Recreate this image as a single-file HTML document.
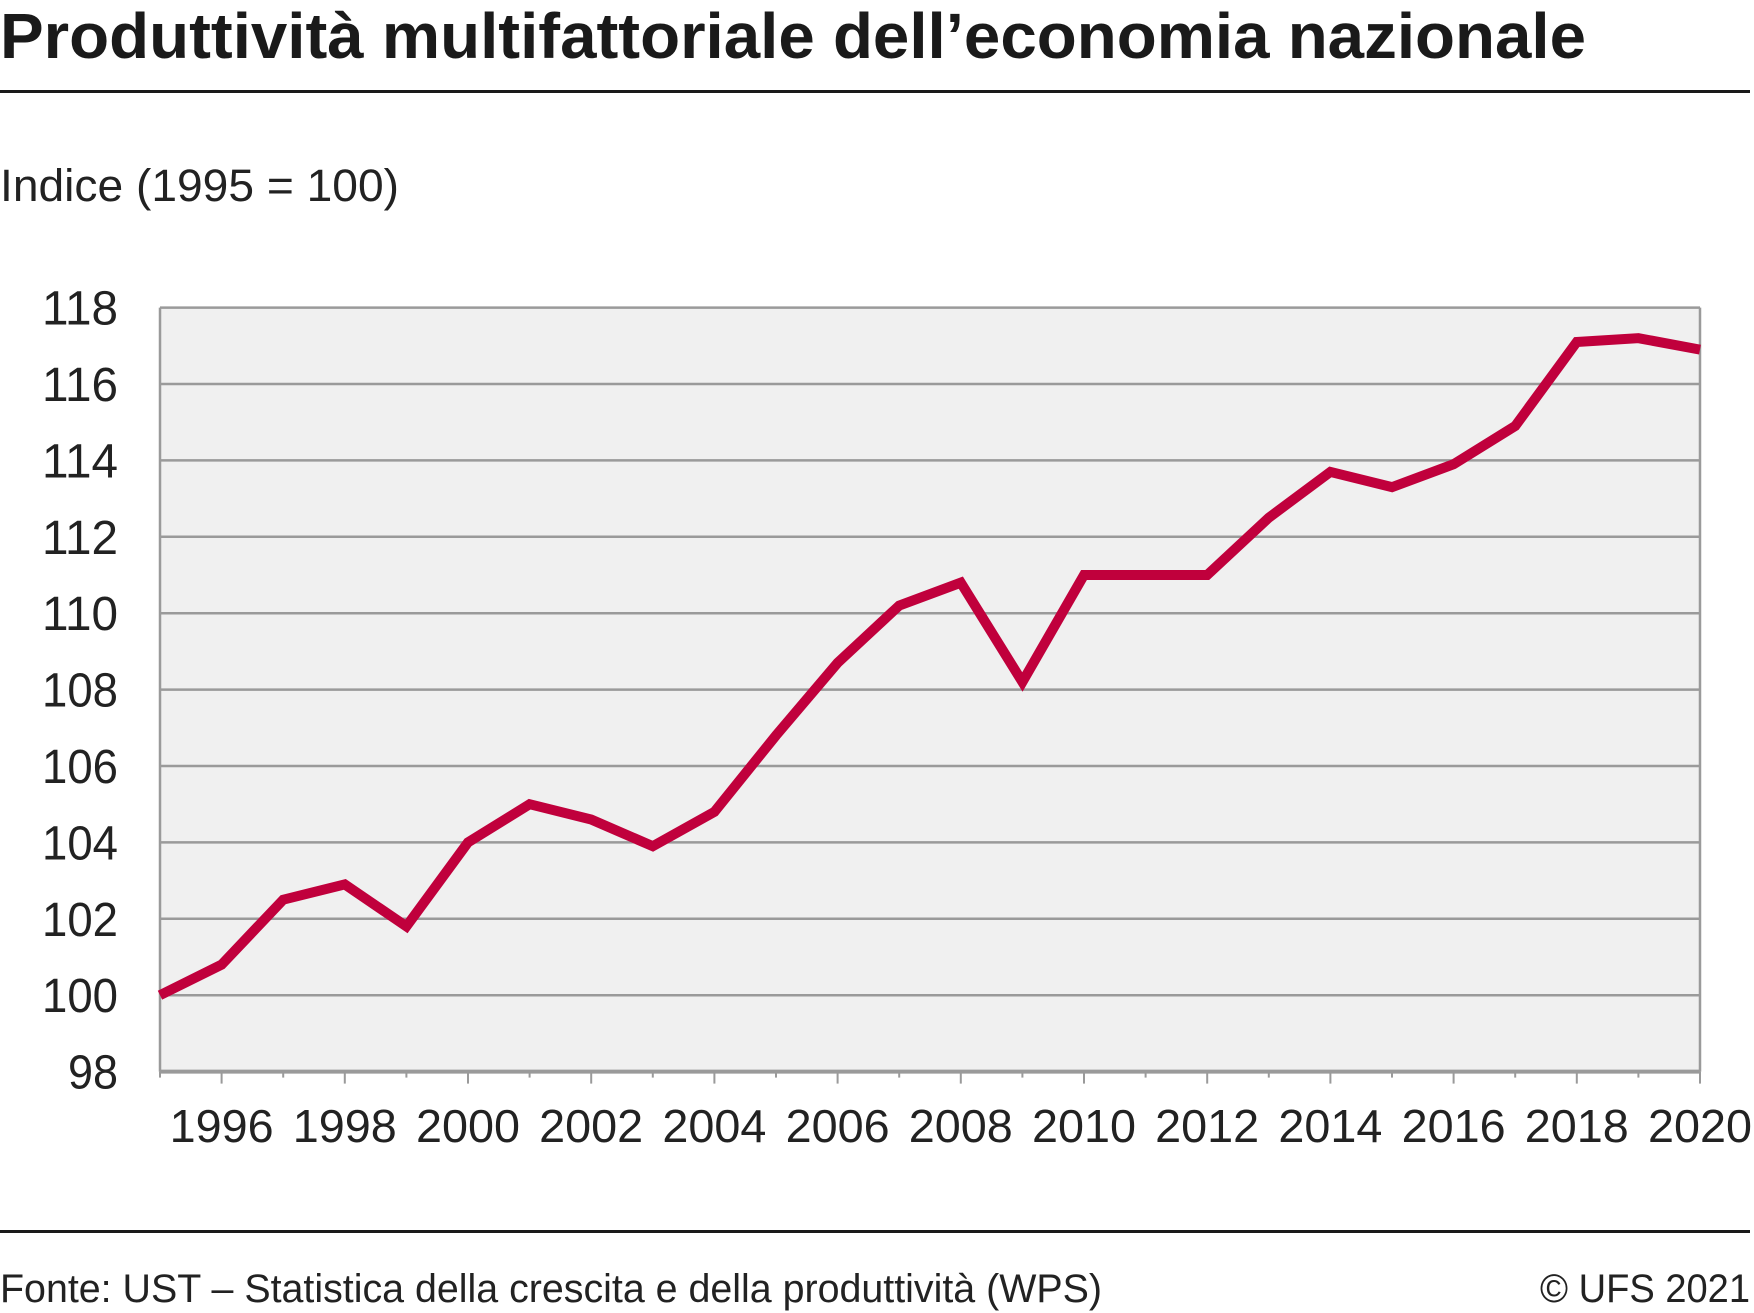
<!DOCTYPE html>
<html><head><meta charset="utf-8"><style>
html,body{margin:0;padding:0;background:#fff;}
svg{display:block;font-family:"Liberation Sans",sans-serif;}
</style></head><body>
<svg id="chart" width="1754" height="1313" viewBox="0 0 1754 1313">
<text x="0" y="58" font-size="64" font-weight="bold" fill="#1a1a1a" textLength="1586" lengthAdjust="spacingAndGlyphs">Produttività multifattoriale dell’economia nazionale</text>
<rect x="0" y="90" width="1750" height="3" fill="#1a1a1a"/>
<text x="0" y="201" font-size="45" fill="#222" textLength="399" lengthAdjust="spacingAndGlyphs">Indice (1995 = 100)</text>
<g id="plot"></g>
<rect x="0" y="1230" width="1750" height="3" fill="#1a1a1a"/>
<text x="0" y="1302" font-size="40" fill="#222" textLength="1102" lengthAdjust="spacingAndGlyphs">Fonte: UST – Statistica della crescita e della produttività (WPS)</text>
<text x="1750" y="1302" font-size="40" fill="#222" text-anchor="end" textLength="210" lengthAdjust="spacingAndGlyphs">© UFS 2021</text>
</svg>
<script>
const years=[1995,1996,1997,1998,1999,2000,2001,2002,2003,2004,2005,2006,2007,2008,2009,2010,2011,2012,2013,2014,2015,2016,2017,2018,2019,2020];
const values=[100,100.8,102.5,102.9,101.8,104.0,105.0,104.6,103.9,104.8,106.8,108.7,110.2,110.8,108.2,111.0,111.0,111.0,112.5,113.7,113.3,113.9,114.9,117.1,117.2,116.9];
const yTicks=[98,100,102,104,106,108,110,112,114,116,118];
const xLabels=[1996,1998,2000,2002,2004,2006,2008,2010,2012,2014,2016,2018,2020];
const L=160,R=1700,T=307.6,B=1071.6;
const x=v=>L+(v-1995)/(2020-1995)*(R-L);
const y=v=>B-(v-98)/(118-98)*(B-T);
const NS='http://www.w3.org/2000/svg';
const g=document.getElementById('plot');
function mk(t,a){const e=document.createElementNS(NS,t);for(const k in a)e.setAttribute(k,a[k]);g.appendChild(e);return e;}
let bg=mk('rect',{x:L,y:T,width:R-L,height:B-T,fill:'#f0f0f0'});


yTicks.forEach(v=>{
  const ln=mk('line',{x1:L,x2:R,y1:y(v),y2:y(v),stroke:'#9a9a9a','stroke-width':v===98?4:2.5});
  
  
  const w=String(v).length===3?76:50;
  const t=mk('text',{x:118,y:y(v)+17,'font-size':48,fill:'#222','text-anchor':'end',textLength:w,lengthAdjust:'spacingAndGlyphs'});
  t.textContent=v;
  
  
});
const lf=mk('line',{x1:L,x2:L,y1:T,y2:B,stroke:'#9a9a9a','stroke-width':2.5});


const rt=mk('line',{x1:R,x2:R,y1:T,y2:B,stroke:'#9a9a9a','stroke-width':2.5});


years.forEach(yr=>{
  const major=(yr%2===0);
  const tk=mk('line',{x1:x(yr),x2:x(yr),y1:B,y2:B+(major?12:6),stroke:'#9a9a9a','stroke-width':2});
  
  
});
xLabels.forEach(yr=>{
  const t=mk('text',{x:x(yr),y:1142,'font-size':46,fill:'#222','text-anchor':'middle',textLength:104,lengthAdjust:'spacingAndGlyphs'});
  t.textContent=yr;
  
  
});
const pts=years.map((yr,i)=>x(yr)+','+y(values[i])).join(' ');
const pl=mk('polyline',{points:pts,fill:'none',stroke:'#c0003c','stroke-width':10,'stroke-linejoin':'miter','stroke-miterlimit':4});


</script>
</body></html>
